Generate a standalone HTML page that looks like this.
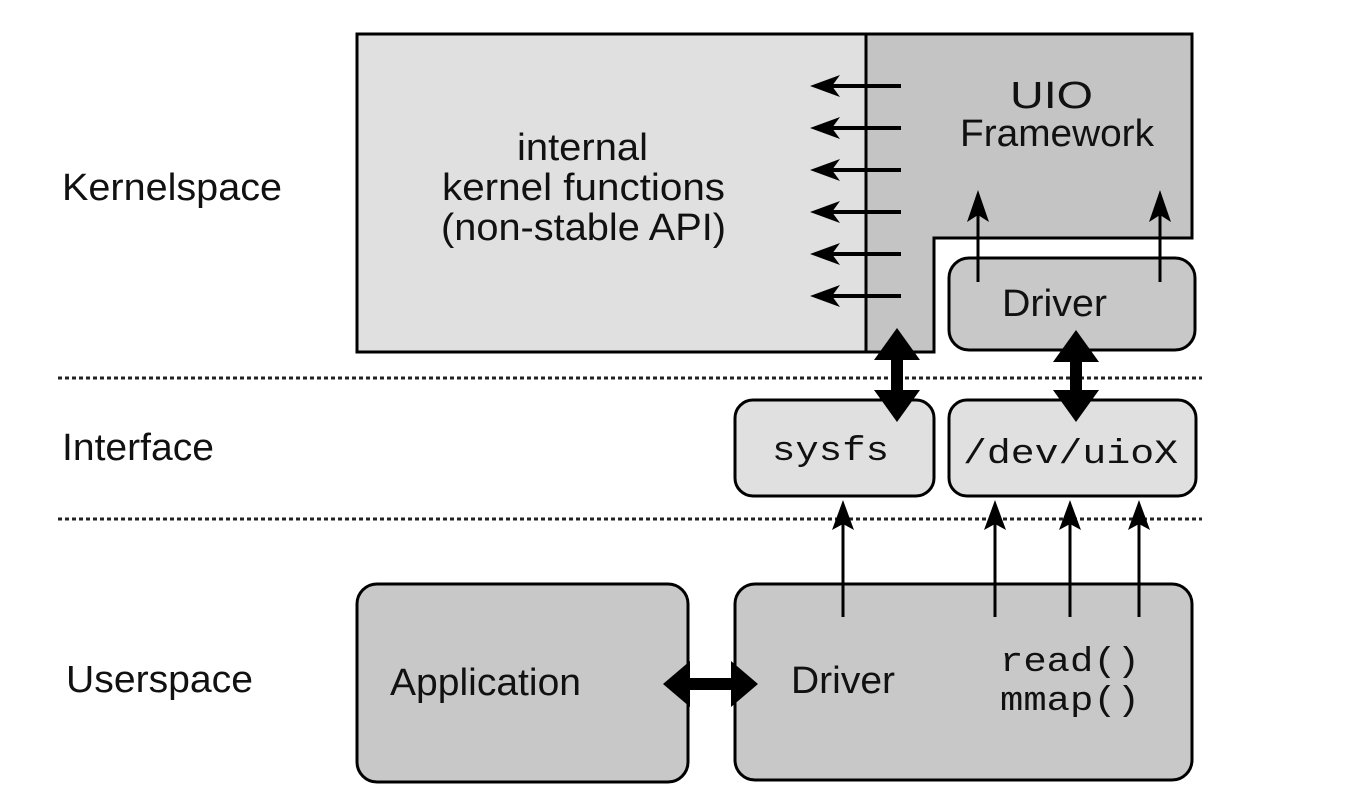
<!DOCTYPE html>
<html><head><style>body{margin:0;background:#fff}svg{display:block}</style></head><body>
<svg width="1346" height="807" viewBox="0 0 1346 807" xmlns="http://www.w3.org/2000/svg" font-family="Liberation Sans, sans-serif">
<g font-size="38" fill="#111">
<text x="62" y="200" textLength="220" lengthAdjust="spacingAndGlyphs">Kernelspace</text>
<text x="62" y="460" textLength="152" lengthAdjust="spacingAndGlyphs">Interface</text>
<text x="66" y="692" textLength="187" lengthAdjust="spacingAndGlyphs">Userspace</text>
</g>
<line x1="58" y1="378" x2="1202" y2="378" stroke="#222" stroke-width="3" stroke-dasharray="4,3"/>
<line x1="58" y1="519" x2="1202" y2="519" stroke="#222" stroke-width="3" stroke-dasharray="4,3"/>
<rect x="357" y="34" width="509" height="318" fill="#e0e0e0" stroke="#000" stroke-width="3"/>
<path d="M866,34 H1192 V238 H934 V352 H866 Z" fill="#c4c4c4" stroke="#000" stroke-width="3"/>
<g font-size="38" fill="#111">
<text x="517" y="160" textLength="131" lengthAdjust="spacingAndGlyphs">internal</text>
<text x="442" y="200" textLength="283" lengthAdjust="spacingAndGlyphs">kernel functions</text>
<text x="441" y="240" textLength="285" lengthAdjust="spacingAndGlyphs">(non-stable API)</text>
<text x="1010" y="108" textLength="83" lengthAdjust="spacingAndGlyphs">UIO</text>
<text x="960" y="146" textLength="194" lengthAdjust="spacingAndGlyphs">Framework</text>
</g>
<g stroke="#000" stroke-width="4">
<line x1="901" y1="86" x2="825" y2="86"/>
<line x1="901" y1="128" x2="825" y2="128"/>
<line x1="901" y1="170" x2="825" y2="170"/>
<line x1="901" y1="212" x2="825" y2="212"/>
<line x1="901" y1="254" x2="825" y2="254"/>
<line x1="901" y1="296" x2="825" y2="296"/>
</g>
<g fill="#000">
<path d="M810,86 L840,75 L832,86 L840,97 Z"/>
<path d="M810,128 L840,117 L832,128 L840,139 Z"/>
<path d="M810,170 L840,159 L832,170 L840,181 Z"/>
<path d="M810,212 L840,201 L832,212 L840,223 Z"/>
<path d="M810,254 L840,243 L832,254 L840,265 Z"/>
<path d="M810,296 L840,285 L832,296 L840,307 Z"/>
</g>
<rect x="949" y="258" width="246" height="92" rx="20" fill="#c8c8c8" stroke="#000" stroke-width="3"/>
<text x="1002" y="316" font-size="38" fill="#111" textLength="105" lengthAdjust="spacingAndGlyphs">Driver</text>
<g stroke="#000" stroke-width="3">
<line x1="978" y1="282" x2="978" y2="205"/>
<line x1="1160" y1="282" x2="1160" y2="205"/>
</g>
<g fill="#000">
<path d="M978,190 L989,222 L978,215 L967,222 Z"/>
<path d="M1160,190 L1171,222 L1160,215 L1149,222 Z"/>
</g>
<rect x="735" y="400" width="199" height="96" rx="18" fill="#e0e0e0" stroke="#000" stroke-width="3"/>
<rect x="949" y="400" width="247" height="96" rx="18" fill="#e0e0e0" stroke="#000" stroke-width="3"/>
<g font-family="Liberation Mono, monospace" font-size="34" fill="#111">
<text x="772" y="460" textLength="117" lengthAdjust="spacingAndGlyphs">sysfs</text>
<text x="963" y="463" textLength="215" lengthAdjust="spacingAndGlyphs">/dev/uioX</text>
</g>
<g fill="#000">
<path d="M897,328 L920,360 L903,360 L903,390 L920,390 L897,422 L874,390 L891,390 L891,360 L874,360 Z"/>
<path d="M1076,330 L1099,362 L1082,362 L1082,390 L1099,390 L1076,422 L1053,390 L1070,390 L1070,362 L1053,362 Z"/>
</g>
<rect x="357" y="584" width="331" height="198" rx="20" fill="#c8c8c8" stroke="#000" stroke-width="3"/>
<rect x="735" y="584" width="457" height="196" rx="20" fill="#c8c8c8" stroke="#000" stroke-width="3"/>
<g font-size="38" fill="#111">
<text x="390" y="695" textLength="191" lengthAdjust="spacingAndGlyphs">Application</text>
<text x="791" y="693" textLength="104" lengthAdjust="spacingAndGlyphs">Driver</text>
</g>
<g font-family="Liberation Mono, monospace" font-size="34" fill="#111">
<text x="1000" y="671" textLength="140" lengthAdjust="spacingAndGlyphs">read()</text>
<text x="1000" y="710" textLength="140" lengthAdjust="spacingAndGlyphs">mmap()</text>
</g>
<g stroke="#000" stroke-width="3">
<line x1="843" y1="617" x2="843" y2="515"/>
<line x1="995" y1="617" x2="995" y2="515"/>
<line x1="1070" y1="617" x2="1070" y2="515"/>
<line x1="1139" y1="617" x2="1139" y2="515"/>
</g>
<g fill="#000">
<path d="M843,500 L854,530 L843,524 L832,530 Z"/>
<path d="M995,500 L1006,530 L995,524 L984,530 Z"/>
<path d="M1070,500 L1081,530 L1070,524 L1059,530 Z"/>
<path d="M1139,500 L1150,530 L1139,524 L1128,530 Z"/>
<path d="M663,684 L690,661 L690,678 L731,678 L731,661 L758,684 L731,707 L731,690 L690,690 L690,707 Z"/>
</g>
</svg>
</body></html>
